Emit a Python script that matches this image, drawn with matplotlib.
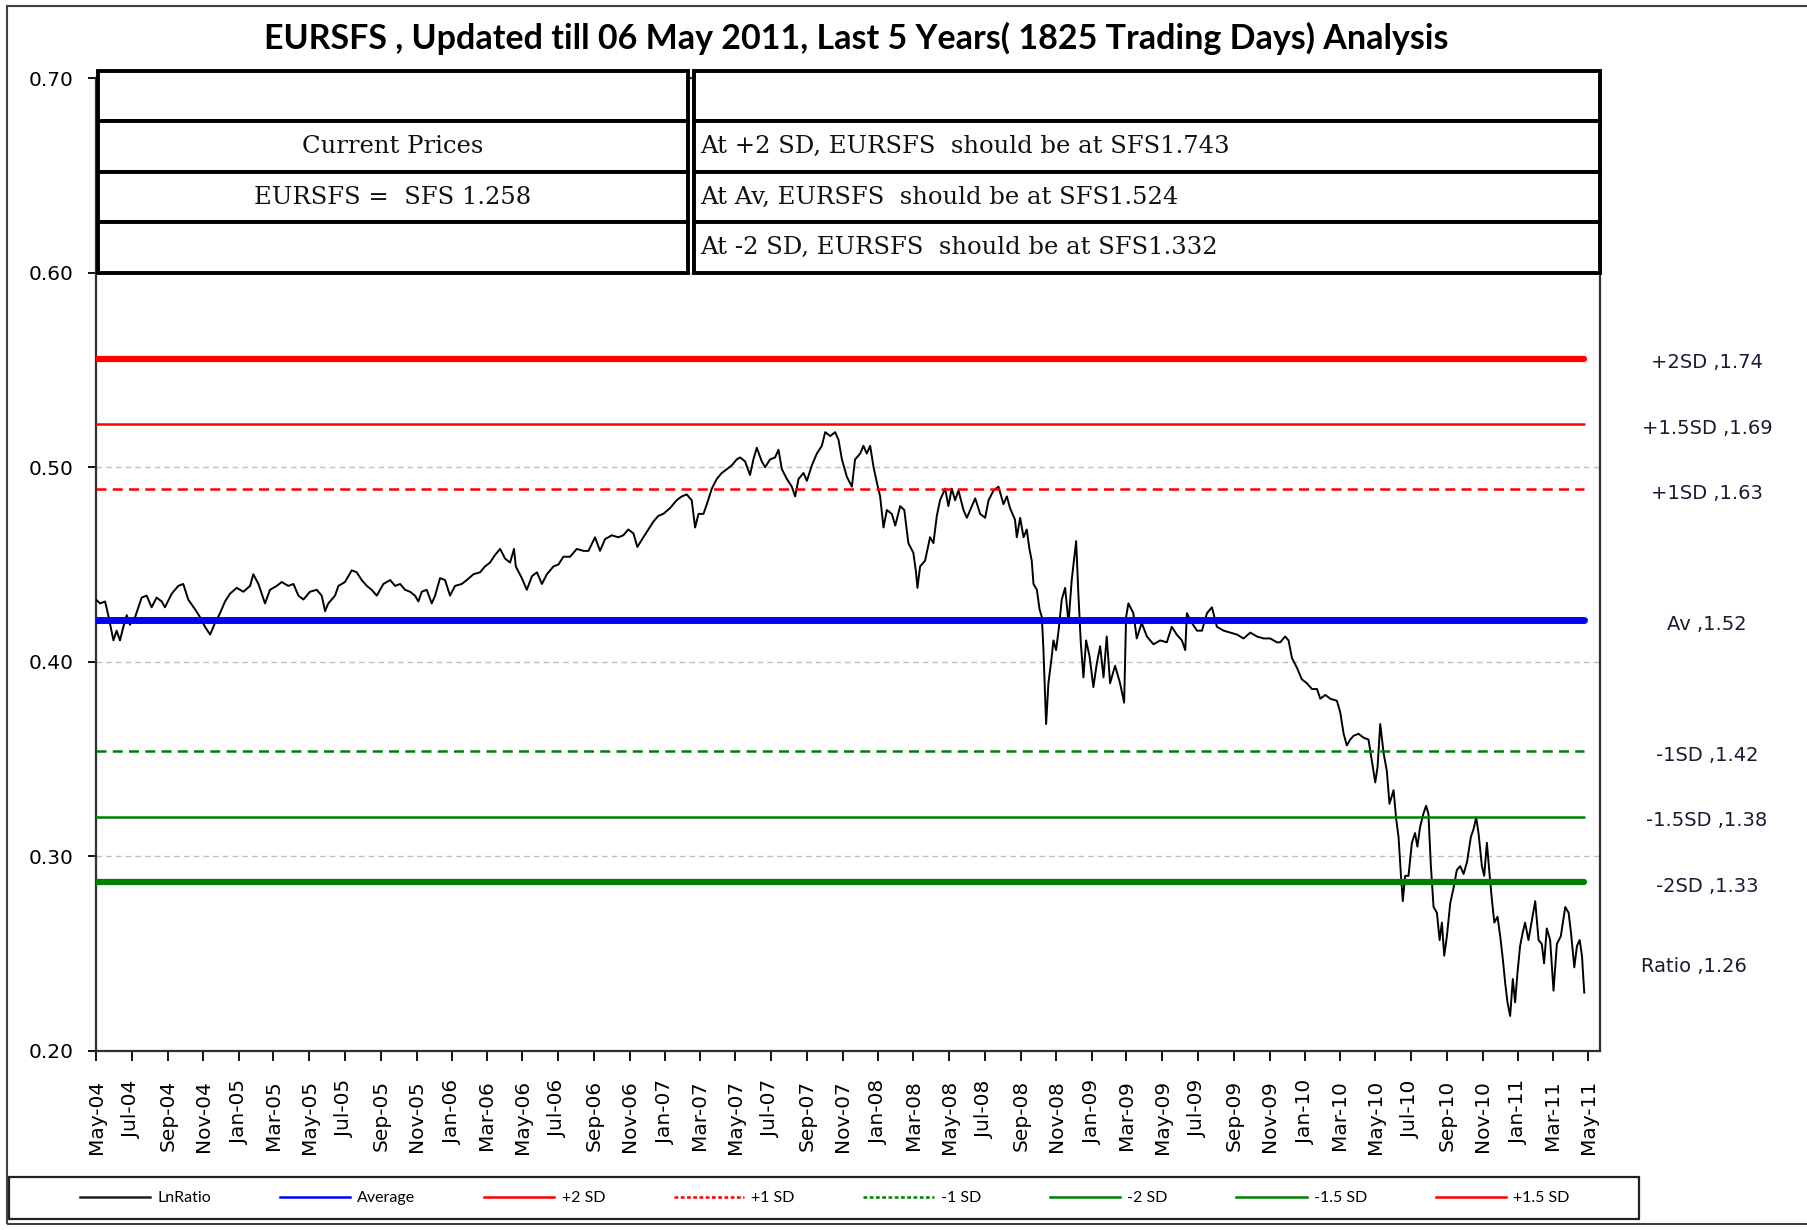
import numpy as np
import pandas as pd
import matplotlib
matplotlib.use('Agg')
import matplotlib.pyplot as plt
import matplotlib.dates as mdates
from matplotlib.lines import Line2D
from matplotlib.patches import Rectangle

# Pair and reference prices
pair = 'EURSFS'
ccy = 'SFS'
current_price = 1.258
av_price = 1.524
plus2_price = 1.743
minus2_price = 1.332

# ln(price) history, x in months since 1 May 2004
months = [
    0.00, 0.23, 0.51, 0.69, 0.98, 1.16, 1.35, 1.54, 1.73, 1.91,
    2.20, 2.57, 2.85, 3.13, 3.41, 3.70, 3.88, 4.26, 4.63, 4.91,
    5.19, 5.57, 5.85, 6.13, 6.42, 6.70, 6.98, 7.26, 7.54, 7.92,
    8.29, 8.67, 8.85, 9.14, 9.51, 9.79, 10.17, 10.45, 10.82, 11.11,
    11.39, 11.67, 12.04, 12.42, 12.70, 12.89, 13.07, 13.45, 13.64, 14.01,
    14.39, 14.67, 14.95, 15.24, 15.51, 15.80, 16.17, 16.55, 16.83,
    17.11, 17.39, 17.67, 17.95, 18.14, 18.33, 18.61, 18.89, 19.08, 19.36,
    19.64, 19.92, 20.20, 20.58, 20.86, 21.24, 21.61, 21.89, 22.17, 22.46,
    22.74, 23.02, 23.30, 23.52, 23.62, 23.96, 24.24, 24.53, 24.81, 25.09,
    25.37, 25.74, 26.02, 26.30, 26.68, 27.05, 27.43, 27.71, 28.08, 28.36,
    28.64, 29.02, 29.39, 29.67, 29.95, 30.24, 30.46, 30.80, 31.08, 31.36,
    31.64, 31.92, 32.30, 32.67, 32.96, 33.24, 33.52, 33.71, 33.90,
    34.18, 34.37, 34.65, 34.93, 35.21, 35.49, 35.78, 36.05, 36.24, 36.52,
    36.80, 36.99, 37.18, 37.46, 37.65, 37.93, 38.21, 38.40, 38.59, 38.87,
    39.15, 39.34, 39.53, 39.81, 40.00, 40.28, 40.56, 40.84, 41.03, 41.31,
    41.59, 41.78, 41.97, 42.25, 42.53, 42.71, 43.00, 43.18, 43.37, 43.56,
    43.75, 43.94, 44.12, 44.31, 44.50, 44.78, 44.97, 45.25, 45.48, 45.71,
    45.99, 46.14, 46.22, 46.37, 46.65, 46.93, 47.12, 47.31, 47.49, 47.78,
    47.96, 48.15, 48.34, 48.53, 48.81, 49.00, 49.28, 49.47, 49.75, 50.03,
    50.22, 50.50, 50.78,
    51.06, 51.25, 51.43, 51.71, 51.81, 52.00, 52.19, 52.37, 52.52, 52.65,
    52.75, 52.94, 53.09, 53.22, 53.31, 53.46, 53.59, 53.78, 53.87, 54.02,
    54.16, 54.34, 54.53, 54.72, 54.90, 55.15, 55.28, 55.41, 55.56, 55.71,
    55.90, 56.12, 56.31, 56.50, 56.69, 56.87, 57.06, 57.34, 57.62, 57.85,
    57.96, 58.09, 58.37, 58.56, 58.84, 59.13, 59.50, 59.88, 60.25, 60.53,
    60.81, 61.10, 61.29, 61.38, 61.66, 61.95, 62.23, 62.51, 62.79, 63.07,
    63.45, 63.82, 64.20, 64.57, 64.95, 65.32, 65.70, 66.07, 66.45,
    66.63, 66.91, 67.10, 67.29, 67.57, 67.85, 68.13, 68.42, 68.70, 68.89,
    69.17, 69.45, 69.82, 70.01, 70.20, 70.38, 70.57, 70.76, 71.04, 71.32,
    71.60, 71.79, 71.98, 72.11, 72.26, 72.45, 72.63, 72.78, 73.01, 73.16,
    73.29, 73.42, 73.53, 73.66, 73.85, 74.04, 74.22, 74.35, 74.50, 74.69,
    74.84, 74.97, 75.11, 75.26, 75.45, 75.60, 75.73, 75.86, 76.01, 76.20,
    76.39, 76.57, 76.76, 76.95, 77.14, 77.36, 77.51, 77.66, 77.79, 77.98,
    78.11, 78.26, 78.41, 78.54, 78.68, 78.86, 79.01, 79.16, 79.29, 79.42,
    79.57, 79.72, 79.85, 79.98, 80.13, 80.28, 80.41, 80.60, 80.79, 80.98,
    81.17, 81.35, 81.48, 81.63, 81.82, 82.01, 82.20, 82.42, 82.67, 82.86,
    82.99, 83.18, 83.33, 83.48, 83.61, 83.74,
]
ln_ratio = [
    0.432, 0.430, 0.431, 0.424, 0.411, 0.416, 0.411, 0.418, 0.424, 0.419,
    0.423, 0.433, 0.434, 0.428, 0.433, 0.431, 0.428, 0.435, 0.439, 0.440,
    0.432, 0.427, 0.423, 0.418, 0.414, 0.420, 0.425, 0.431, 0.435, 0.438,
    0.436, 0.439, 0.445, 0.440, 0.430, 0.437, 0.439, 0.441, 0.439, 0.440,
    0.434, 0.432, 0.436, 0.437, 0.434, 0.426, 0.430, 0.434, 0.439, 0.441,
    0.447, 0.446, 0.442, 0.439, 0.437, 0.434, 0.440, 0.442, 0.439,
    0.440, 0.437, 0.436, 0.434, 0.431, 0.436, 0.437, 0.430, 0.434, 0.443,
    0.442, 0.434, 0.439, 0.440, 0.442, 0.445, 0.446, 0.449, 0.451, 0.455,
    0.458, 0.453, 0.451, 0.458, 0.449, 0.443, 0.437, 0.444, 0.446, 0.440,
    0.445, 0.449, 0.450, 0.454, 0.454, 0.458, 0.457, 0.457, 0.464, 0.457,
    0.463, 0.465, 0.464, 0.465, 0.468, 0.466, 0.459, 0.464, 0.468, 0.472,
    0.475, 0.476, 0.479, 0.483, 0.485, 0.486, 0.483, 0.469, 0.476,
    0.476, 0.481, 0.489, 0.494, 0.497, 0.499, 0.501, 0.504, 0.505, 0.503,
    0.496, 0.504, 0.510, 0.503, 0.500, 0.504, 0.505, 0.509, 0.499, 0.494,
    0.490, 0.485, 0.494, 0.497, 0.493, 0.501, 0.507, 0.511, 0.518, 0.516,
    0.518, 0.514, 0.504, 0.495, 0.490, 0.504, 0.507, 0.511, 0.507, 0.511,
    0.500, 0.492, 0.485, 0.469, 0.478, 0.476, 0.470, 0.480, 0.478, 0.461,
    0.456, 0.446, 0.438, 0.449, 0.452, 0.464, 0.461, 0.475, 0.483, 0.489,
    0.480, 0.489, 0.483, 0.488, 0.478, 0.474, 0.480, 0.484, 0.476, 0.474,
    0.483, 0.488, 0.490,
    0.481, 0.485, 0.479, 0.473, 0.464, 0.474, 0.464, 0.468, 0.458, 0.452,
    0.440, 0.437, 0.427, 0.423, 0.406, 0.368, 0.389, 0.403, 0.411, 0.406,
    0.416, 0.432, 0.438, 0.420, 0.442, 0.462, 0.434, 0.410, 0.392, 0.411,
    0.403, 0.387, 0.399, 0.408, 0.392, 0.413, 0.389, 0.398, 0.389, 0.379,
    0.423, 0.430, 0.425, 0.412, 0.420, 0.413, 0.409, 0.411, 0.410, 0.418,
    0.414, 0.411, 0.406, 0.425, 0.420, 0.416, 0.416, 0.425, 0.428, 0.418,
    0.416, 0.415, 0.414, 0.412, 0.415, 0.413, 0.412, 0.412, 0.410,
    0.410, 0.413, 0.411, 0.402, 0.397, 0.391, 0.389, 0.386, 0.386, 0.381,
    0.383, 0.381, 0.380, 0.374, 0.363, 0.357, 0.360, 0.362, 0.363, 0.361,
    0.360, 0.349, 0.338, 0.346, 0.368, 0.353, 0.344, 0.327, 0.334, 0.319,
    0.310, 0.291, 0.277, 0.290, 0.290, 0.307, 0.312, 0.305, 0.315, 0.322,
    0.326, 0.322, 0.295, 0.274, 0.271, 0.257, 0.266, 0.249, 0.259, 0.276,
    0.284, 0.293, 0.295, 0.291, 0.297, 0.310, 0.314, 0.320, 0.312, 0.295,
    0.290, 0.307, 0.291, 0.278, 0.266, 0.269, 0.259, 0.247, 0.235, 0.225,
    0.218, 0.237, 0.225, 0.240, 0.254, 0.261, 0.266, 0.257, 0.267, 0.277,
    0.257, 0.255, 0.245, 0.263, 0.257, 0.231, 0.255, 0.259, 0.274, 0.271,
    0.261, 0.243, 0.254, 0.257, 0.249, 0.230,
]

# SD bands: (legend name, side label, multiple of SD, colour, width, style)
DASH = (0, (4, 2.5))
bands = [
    ('+2 SD', '+2SD', 2.0, '#ff0000', 4.5, '-'),
    ('+1.5 SD', '+1.5SD', 1.5, '#ff0000', 1.8, '-'),
    ('+1 SD', '+1SD', 1.0, '#ff0000', 1.8, DASH),
    ('Average', 'Av', 0.0, '#0000ff', 5.0, '-'),
    ('-1 SD', '-1SD', -1.0, '#008000', 1.8, DASH),
    ('-1.5 SD', '-1.5SD', -1.5, '#008000', 1.8, '-'),
    ('-2 SD', '-2SD', -2.0, '#008000', 4.5, '-'),
]
legend_order = ['LnRatio', 'Average', '+2 SD', '+1 SD', '-1 SD', '-2 SD', '-1.5 SD', '+1.5 SD']

start = pd.Timestamp('2004-05-01')
dates = start + pd.to_timedelta(np.array(months) * 30.44, unit='D')
avg = np.log(av_price)
sd = (np.log(plus2_price) - np.log(minus2_price)) / 4.0

W, H = 1807, 1230
fig = plt.figure(figsize=(W / 100, H / 100), dpi=100)
ax = fig.add_axes([96 / W, 1 - 1051 / H, 1504 / W, 973 / H])

ax.plot(dates, ln_ratio, color='black', lw=1.4, zorder=3)

side_font = dict(family='DejaVu Sans', fontsize=14, color='#1a1a33')
for name, short, k, col, lw, ls in bands:
    level = avg + k * sd
    ax.plot([dates[0], dates[-1]], [level, level], color=col, lw=lw, ls=ls,
            solid_capstyle='round', zorder=4)
    ax.annotate(f'{short} ,{np.exp(level):.2f}', xy=(1.0712, level),
                xycoords=('axes fraction', 'data'), xytext=(0, -3),
                textcoords='offset points', ha='center', va='center',
                annotation_clip=False, **side_font)
ax.annotate(f'Ratio ,{current_price:.2f}', xy=(1.0625, ln_ratio[-1]),
            xycoords=('axes fraction', 'data'), xytext=(0, 19),
            textcoords='offset points', ha='center', va='center',
            annotation_clip=False, **side_font)

# axes
ax.set_ylim(0.2, 0.7)
ax.set_yticks(np.arange(0.2, 0.71, 0.1))
ax.yaxis.set_major_formatter(matplotlib.ticker.FormatStrFormatter('%.2f'))
ax.set_xlim(start, pd.Timestamp('2011-05-21'))
ax.xaxis.set_major_locator(mdates.MonthLocator(bymonth=[1, 3, 5, 7, 9, 11]))
ax.xaxis.set_major_formatter(mdates.DateFormatter('%b-%y'))
ax.tick_params(axis='x', direction='out', length=7, width=1.3, pad=14,
               labelrotation=90, labelsize=14.5)
ax.tick_params(axis='y', direction='out', length=6, width=1.3, pad=10, labelsize=14.5)
ax.yaxis.grid(True, ls=(0, (4, 3)), color='#c0c0c0', lw=1.0)
ax.set_axisbelow(True)
for s in ax.spines.values():
    s.set_color('#303030')
    s.set_linewidth(1.6)

# price table over the top of the plot
rows = np.linspace(1.0072, 0.7996, 5)
cols = [(0.0013, 0.3935), (0.3975, 1.0)]
left_txt = ['', 'Current Prices', f'{pair} =  {ccy} {current_price:.3f}', '']
right_txt = ['',
             f'At +2 SD, {pair}  should be at {ccy}{plus2_price:.3f}',
             f'At Av, {pair}  should be at {ccy}{av_price:.3f}',
             f'At -2 SD, {pair}  should be at {ccy}{minus2_price:.3f}']
cell_font = dict(family='DejaVu Serif', fontsize=17.5, color='#111111')
for i in range(4):
    y0, y1 = rows[i + 1], rows[i]
    for (x0, x1) in cols:
        ax.add_patch(Rectangle((x0, y0), x1 - x0, y1 - y0, transform=ax.transAxes,
                               facecolor='white', edgecolor='black', lw=2.8,
                               clip_on=False, zorder=10))
    ym = (y0 + y1) / 2
    ax.text(sum(cols[0]) / 2, ym, left_txt[i], transform=ax.transAxes,
            ha='center', va='center', zorder=11, **cell_font)
    ax.text(cols[1][0] + 0.0045, ym, right_txt[i], transform=ax.transAxes,
            ha='left', va='center', zorder=11, **cell_font)

fig.text(856 / W, 1 - 38 / H,
         f'{pair} , Updated till 06 May 2011, Last 5 Years( 1825 Trading Days) Analysis',
         ha='center', va='center', family='Lato', fontweight='bold', fontsize=24.5)

# legend along the bottom
styles = {name: (col, ls) for name, _, _, col, _, ls in bands}
styles['LnRatio'] = ('#202020', '-')
handles = []
for name in legend_order:
    col, ls = styles[name]
    if ls == DASH:
        ls = (0, (1.5, 1))
    handles.append(Line2D([], [], color=col, lw=1.8, ls=ls))
fig.legend(handles, legend_order, loc='center left', bbox_to_anchor=(72 / W, 1 - 1198 / H),
           ncol=8, frameon=False, borderpad=0, handlelength=4.4, handletextpad=0.45,
           columnspacing=4.3, prop=dict(family='Lato', size=11.5))
fig.patches.append(Rectangle((9 / W, 1 - 1219 / H), 1630 / W, 42 / H,
                             transform=fig.transFigure, fill=False,
                             edgecolor='#202020', lw=1.6))
fig.patches.append(Rectangle((7 / W, 1 - 1224 / H), 1.0, 1218 / H,
                             transform=fig.transFigure, fill=False,
                             edgecolor='#404040', lw=1.5))

fig.savefig('out.png', dpi=100)
